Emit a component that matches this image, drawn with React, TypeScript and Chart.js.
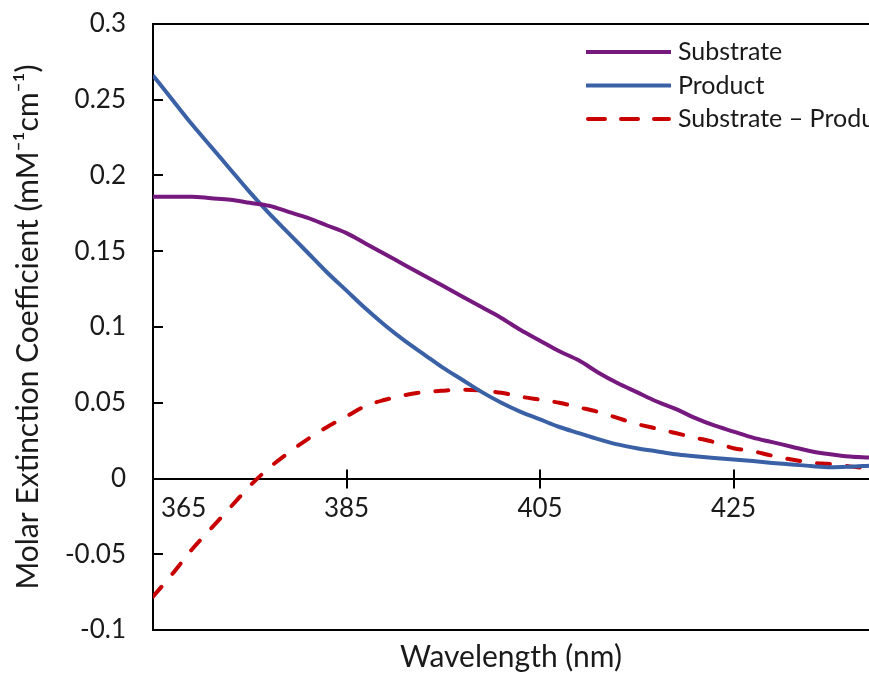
import React, { useEffect, useRef } from "react";
import { Chart, registerables } from "chart.js";

Chart.register(...registerables);

// ---- Data ----
const wavelengths = [
  365, 367, 369, 371, 373, 375, 377, 379, 381, 383, 385, 387, 389, 391, 393, 395, 397, 399, 401,
  403, 405, 407, 409, 411, 413, 415, 417, 419, 421, 423, 425, 427, 429, 431, 433, 435, 437, 439,
];

const substrate = [
  0.186, 0.186, 0.186, 0.185, 0.184, 0.182, 0.18, 0.176, 0.172, 0.167, 0.162, 0.155, 0.148, 0.141,
  0.134, 0.127, 0.12, 0.113, 0.106, 0.098, 0.091, 0.084, 0.078, 0.07, 0.063, 0.057, 0.051, 0.046,
  0.04, 0.035, 0.031, 0.027, 0.024, 0.021, 0.018, 0.016, 0.0145, 0.0138,
];

const product = [
  0.266, 0.25, 0.234, 0.219, 0.204, 0.189, 0.175, 0.162, 0.149, 0.136, 0.124, 0.112, 0.101, 0.091,
  0.082, 0.073, 0.065, 0.057, 0.05, 0.044, 0.039, 0.034, 0.03, 0.026, 0.0225, 0.02, 0.018, 0.016,
  0.0147, 0.0135, 0.0125, 0.0115, 0.0103, 0.0093, 0.0082, 0.0074, 0.0078, 0.0085,
];

const difference = [
  -0.078, -0.063, -0.047, -0.033, -0.019, -0.005, 0.007, 0.017, 0.026, 0.034, 0.041, 0.048, 0.052,
  0.055, 0.057, 0.058, 0.0586, 0.058, 0.0566, 0.054, 0.052, 0.05, 0.047, 0.044, 0.04, 0.036, 0.033,
  0.03, 0.027, 0.024, 0.02, 0.018, 0.015, 0.0125, 0.0105, 0.0095, 0.008, 0.0066,
];

const seriesLabels = ["Substrate", "Product", "Substrate – Product"];
const xTickValues = [365, 385, 405, 425];
const xMin = 365;
const xMax = 439;
const yMin = -0.1;
const yMax = 0.3;
const yStep = 0.05;
const xTitle = "Wavelength (nm)";
const yTitle = "Molar Extinction Coefficient (mM⁻¹cm⁻¹)";

const FONT = "Lato, 'Open Sans', sans-serif";
const TEXT = "#1a1a1a";

const fmt = (v: number) => String(Math.round(v * 100) / 100);

const decorPlugin = {
  id: "decor",
  afterDraw(chart: any) {
    const ctx = chart.ctx as CanvasRenderingContext2D;
    const { left, top } = chart.chartArea;
    const xs = chart.scales.x;
    const ys = chart.scales.y;
    const y0 = ys.getPixelForValue(0);
    ctx.save();
    ctx.strokeStyle = "#000";
    ctx.lineWidth = 2;
    ctx.lineCap = "butt";
    // x tick marks crossing the zero axis
    xs.ticks.forEach((t: any) => {
      const px = Math.round(xs.getPixelForValue(t.value));
      if (px > left + 2) {
        ctx.beginPath();
        ctx.moveTo(px, y0 - 9);
        ctx.lineTo(px, y0 + 10);
        ctx.stroke();
      }
    });
    // y tick marks pointing inward
    ys.ticks.forEach((t: any) => {
      const py = Math.round(ys.getPixelForValue(t.value));
      ctx.beginPath();
      ctx.moveTo(left, py);
      ctx.lineTo(left + 10, py);
      ctx.stroke();
    });
    // x tick labels under the zero line
    ctx.font = `26px ${FONT}`;
    ctx.fillStyle = TEXT;
    ctx.textBaseline = "middle";
    ctx.textAlign = "left";
    xs.ticks.forEach((t: any) => {
      const label = t.label != null && t.label !== "" ? String(t.label) : String(t.value);
      const w = ctx.measureText(label).width;
      let px = xs.getPixelForValue(t.value) - w / 2;
      if (px < left + 8) px = left + 8;
      ctx.fillText(label, px, y0 + 30);
    });
    // legend
    const lx0 = left + 433;
    const lx1 = left + 518;
    chart.data.datasets.forEach((ds: any, i: number) => {
      const ly = top + 28 + i * 33.5;
      const dashed = ds.borderDash && ds.borderDash.length;
      ctx.beginPath();
      ctx.strokeStyle = ds.borderColor;
      ctx.lineWidth = 4;
      ctx.lineCap = dashed ? "round" : "butt";
      ctx.setLineDash(dashed ? [17, 16] : []);
      ctx.moveTo(lx0 + (dashed ? 2 : 0), ly);
      ctx.lineTo(lx1 - (dashed ? 2 : 0), ly);
      ctx.stroke();
      ctx.setLineDash([]);
      ctx.font = `25px ${FONT}`;
      ctx.fillStyle = TEXT;
      ctx.textAlign = "left";
      ctx.textBaseline = "middle";
      ctx.fillText(ds.label, lx1 + 7, ly);
    });
    ctx.restore();
  },
};

export default function App() {
  const canvasRef = useRef<HTMLCanvasElement | null>(null);

  useEffect(() => {
    const canvas = canvasRef.current;
    if (!canvas) return;
    const mk = (vals: number[]) => wavelengths.map((w, i) => ({ x: w, y: vals[i] }));
    const chart = new Chart(canvas, {
      type: "line",
      data: {
        datasets: [
          {
            label: seriesLabels[0],
            data: mk(substrate),
            borderColor: "#76197f",
            borderWidth: 4,
            pointRadius: 0,
            cubicInterpolationMode: "monotone",
          },
          {
            label: seriesLabels[1],
            data: mk(product),
            borderColor: "#3a61a6",
            borderWidth: 4,
            pointRadius: 0,
            cubicInterpolationMode: "monotone",
          },
          {
            label: seriesLabels[2],
            data: mk(difference),
            borderColor: "#c80000",
            borderWidth: 4,
            borderDash: [13, 17],
            borderCapStyle: "round",
            pointRadius: 0,
            cubicInterpolationMode: "monotone",
          },
        ],
      },
      options: {
        responsive: false,
        animation: false,
        devicePixelRatio: 1,
        layout: { padding: 0 },
        plugins: {
          legend: { display: false },
          tooltip: { enabled: false },
        },
        scales: {
          x: {
            type: "linear",
            position: { y: 0 },
            min: xMin,
            max: xMax,
            afterBuildTicks: (scale: any) => {
              scale.ticks = xTickValues.map((v) => ({ value: v }));
            },
            ticks: { display: false, callback: (v: any) => String(v) },
            grid: { display: false, drawTicks: false },
            border: { display: true, color: "#000", width: 2 },
          },
          xt: {
            type: "linear",
            position: "top",
            min: xMin,
            max: xMax,
            ticks: { display: false },
            grid: { display: false, drawTicks: false },
            border: { display: true, color: "#000", width: 2 },
            afterFit: (scale: any) => {
              scale.height = 24;
            },
          },
          xb: {
            type: "linear",
            position: "bottom",
            min: xMin,
            max: xMax,
            ticks: { display: false },
            grid: { display: false, drawTicks: false },
            border: { display: true, color: "#000", width: 2 },
            title: {
              display: true,
              text: xTitle,
              color: TEXT,
              font: { family: FONT, size: 30 },
              padding: { top: 0, bottom: 0 },
            },
            afterFit: (scale: any) => {
              scale.height = 45;
            },
          },
          y: {
            type: "linear",
            position: "left",
            min: yMin,
            max: yMax,
            ticks: {
              stepSize: yStep,
              padding: 3,
              color: TEXT,
              font: { family: FONT, size: 26 },
              callback: (v: any) => fmt(Number(v)),
            },
            grid: { display: false, drawTicks: true, tickLength: 24 },
            border: { display: true, color: "#000", width: 2 },
            title: {
              display: true,
              text: yTitle,
              color: TEXT,
              font: { family: FONT, size: 30 },
              padding: { top: 10, bottom: 0 },
            },
            afterFit: (scale: any) => {
              scale.width = 153;
            },
          },
        },
      } as any,
      plugins: [decorPlugin],
    });
    return () => chart.destroy();
  }, []);

  return (
    <div style={{ position: "fixed", left: 0, top: 0, width: 869, height: 675, background: "#fff" }}>
      <canvas ref={canvasRef} width={869} height={675} style={{ display: "block" }} />
    </div>
  );
}
